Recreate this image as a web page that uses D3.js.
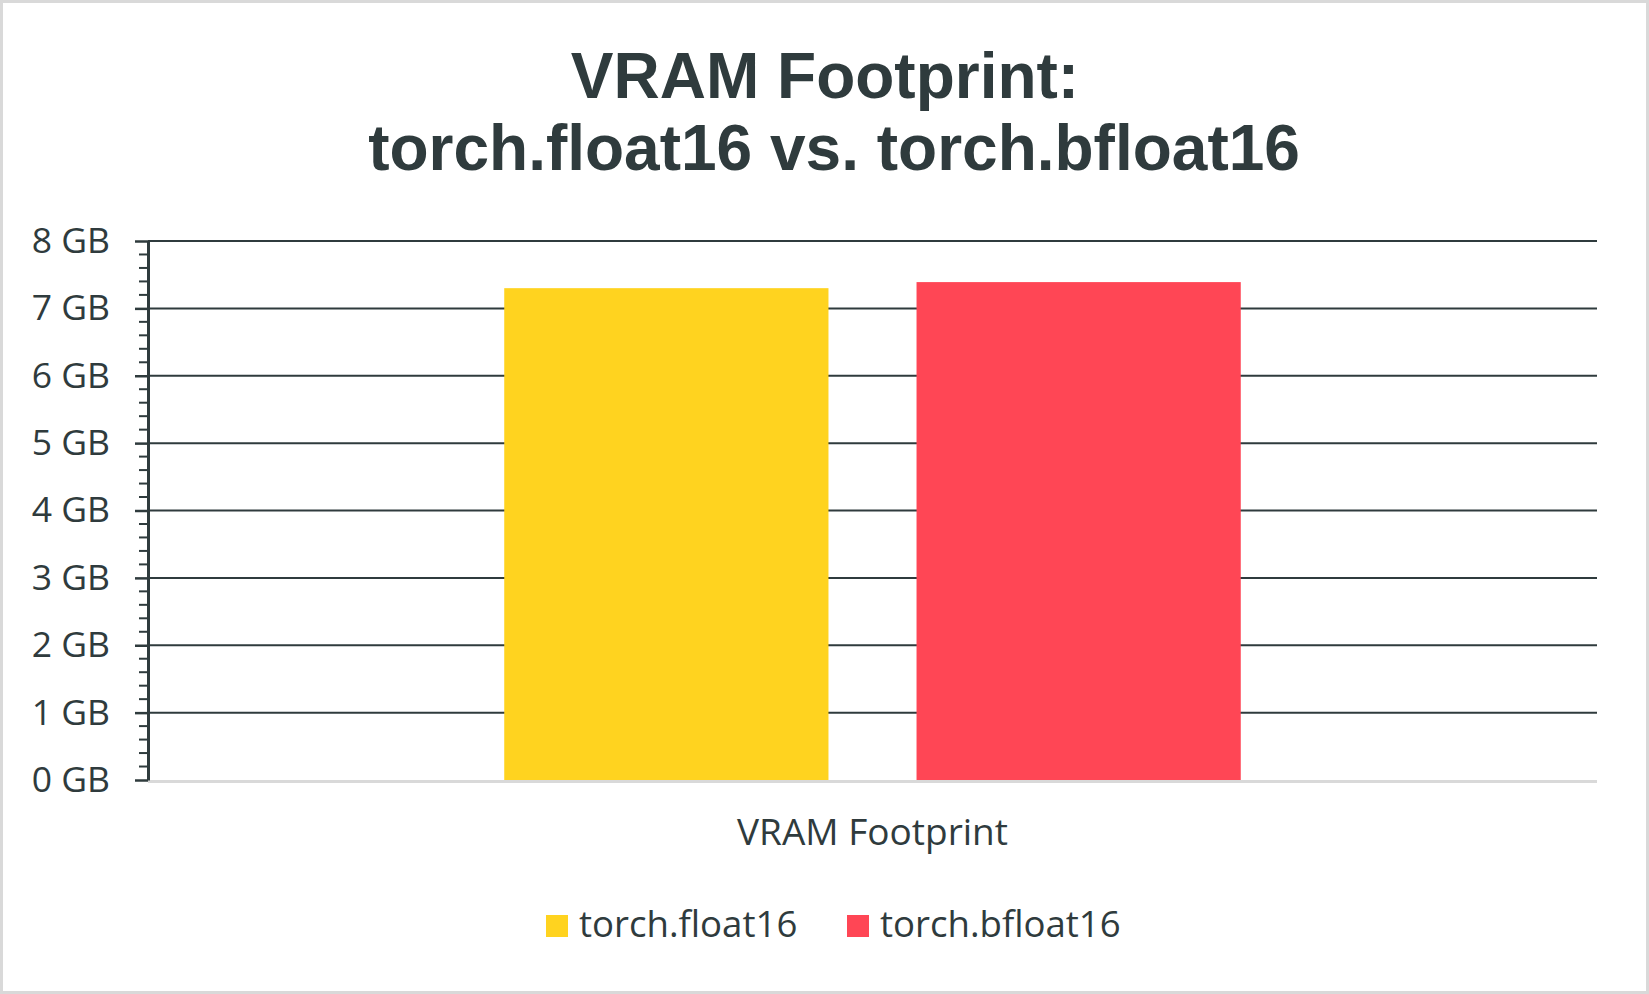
<!DOCTYPE html>
<html><head><meta charset="utf-8">
<script src="https://cdn.jsdelivr.net/npm/d3@7"></script>
<style>html,body{margin:0;padding:0;background:#fff;overflow:hidden}</style>
</head><body>
<svg id="chart" width="1649" height="994"></svg>
<script>
const categories = ["VRAM Footprint"];
const seriesNames = ["torch.float16", "torch.bfloat16"];
const seriesValues = [[7.30], [7.39]];
const seriesColors = ["#FFD31F", "#FF4655"];
const yTicks = [0, 1, 2, 3, 4, 5, 6, 7, 8];
const yTickLabels = ["0 GB", "1 GB", "2 GB", "3 GB", "4 GB", "5 GB", "6 GB", "7 GB", "8 GB"];
const titleLines = ["VRAM Footprint:", "torch.float16 vs. torch.bfloat16"];

(function () {
const W = 1649, H = 994;
const ink = "#2f3b3d";
const svg = d3.select("#chart");

// background + border
svg.append("rect").attr("x", 1.5).attr("y", 1.5).attr("width", W - 3).attr("height", H - 3)
  .attr("fill", "#fff").attr("stroke", "#d9d9d9").attr("stroke-width", 3);

// title
const titleX = [825, 834];
svg.append("g").selectAll("text").data(titleLines).join("text")
  .attr("x", (d, i) => titleX[i]).attr("y", (d, i) => 98 + i * 72)
  .attr("text-anchor", "middle")
  .attr("font-family", "'Liberation Sans', Arial, sans-serif")
  .attr("font-weight", "bold").attr("font-size", 64).attr("fill", ink)
  .text(d => d);

const pLeft = 148, pRight = 1597, pTop = 241, pBottom = 780;
const y = d3.scaleLinear().domain([0, 8]).range([pBottom, pTop]);
const x0 = d3.scaleBand().domain(categories).range([pLeft, pRight]).paddingInner(0.326).paddingOuter(0.326);
const x1 = d3.scaleBand().domain(seriesNames).range([0, x0.bandwidth()]).paddingInner(0.2136).paddingOuter(0);

// gridlines (excluding 0)
svg.append("g").selectAll("line").data(yTicks.filter(d => d > 0)).join("line")
  .attr("x1", pLeft).attr("x2", pRight)
  .attr("y1", d => y(d)).attr("y2", d => y(d))
  .attr("stroke", ink).attr("stroke-width", 2);

// bars
const gBars = svg.append("g");
seriesNames.forEach((s, si) => {
  gBars.selectAll(null).data(categories).join("rect")
    .attr("x", c => x0(c) + x1(s))
    .attr("width", x1.bandwidth())
    .attr("y", (c, ci) => y(seriesValues[si][ci]))
    .attr("height", (c, ci) => y(0) - y(seriesValues[si][ci]))
    .attr("fill", seriesColors[si]);
});

// category baseline
svg.append("line").attr("x1", pLeft).attr("x2", pRight)
  .attr("y1", y(0) + 1.5).attr("y2", y(0) + 1.5)
  .attr("stroke", "#d9d9d9").attr("stroke-width", 3);

// y axis
const yAxis = d3.axisLeft(y).tickValues(yTicks).tickFormat((d, i) => yTickLabels[i])
  .tickSizeInner(13).tickSizeOuter(0).tickPadding(25);
const gy = svg.append("g").attr("transform", `translate(${pLeft},0)`).call(yAxis);
gy.select(".domain").attr("stroke", ink).attr("stroke-width", 3);
gy.selectAll(".tick line").attr("stroke", ink).attr("stroke-width", 2.5);
gy.selectAll(".tick text").attr("fill", ink)
  .attr("font-family", "'Open Sans', sans-serif").attr("font-size", 35.5);

// minor ticks
const minor = d3.range(0, 8.0001, 0.2).filter(v => Math.abs(v - Math.round(v)) > 1e-6);
svg.append("g").selectAll("line").data(minor).join("line")
  .attr("x1", pLeft - 9).attr("x2", pLeft)
  .attr("y1", d => y(d)).attr("y2", d => y(d))
  .attr("stroke", ink).attr("stroke-width", 2);

// category label
svg.append("g").selectAll("text").data(categories).join("text")
  .attr("x", c => x0(c) + x0.bandwidth() / 2).attr("y", 845)
  .attr("text-anchor", "middle")
  .attr("font-family", "'Open Sans', sans-serif").attr("font-size", 37).attr("fill", ink)
  .text(c => c);

// legend
const legendX = [546, 847];
const lg = svg.append("g");
seriesNames.forEach((s, i) => {
  lg.append("rect").attr("x", legendX[i]).attr("y", 915).attr("width", 22).attr("height", 22)
    .attr("fill", seriesColors[i]);
  lg.append("text").attr("x", legendX[i] + 33).attr("y", 937)
    .attr("font-family", "'Open Sans', sans-serif").attr("font-size", 36.6).attr("fill", ink)
    .text(s);
});
})();
</script>
</body></html>
